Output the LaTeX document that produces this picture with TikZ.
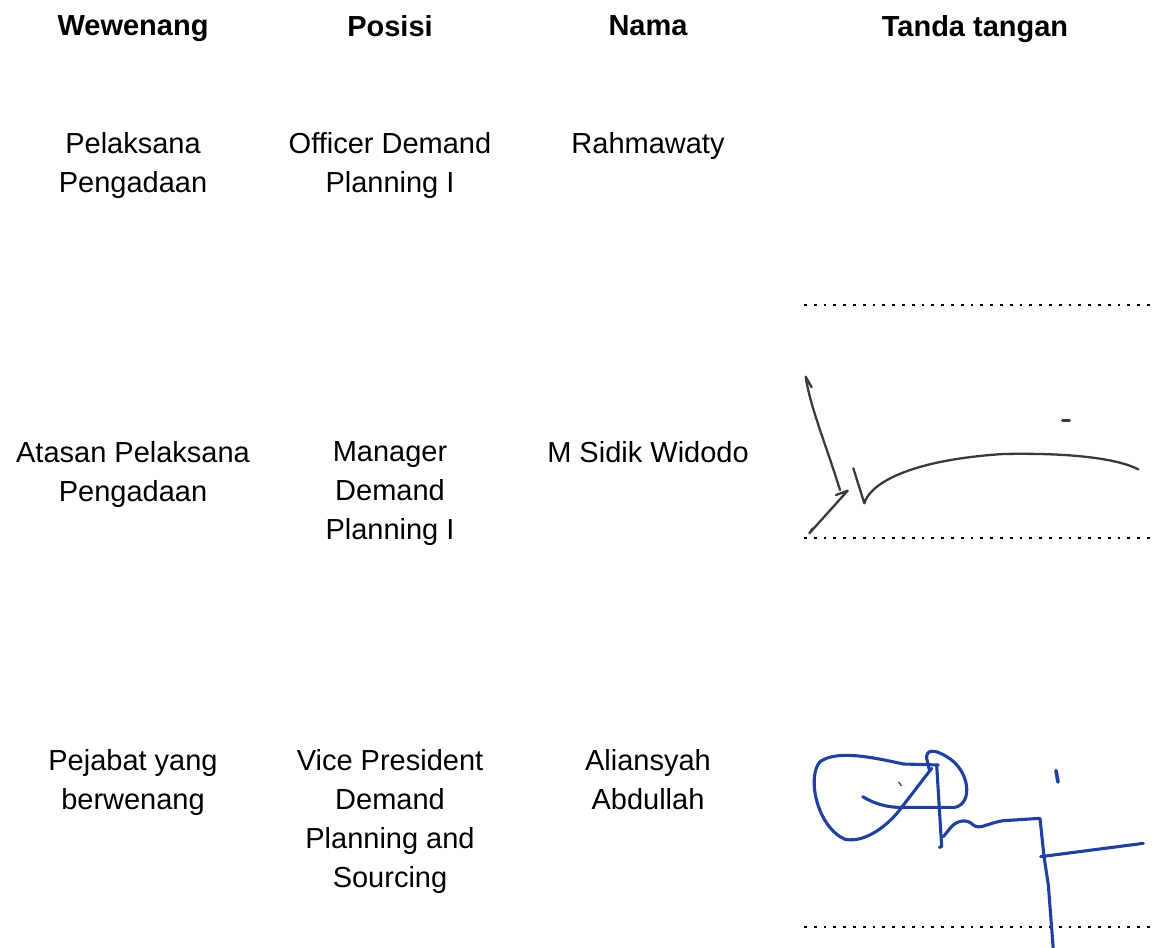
\documentclass[tikz,border=0pt]{standalone}
\usepackage{fontspec}
\setmainfont{Liberation Sans}
\usetikzlibrary{positioning}
\definecolor{inkgray}{RGB}{58,58,58}
\definecolor{inkblue}{RGB}{32,64,160}
\tikzset{head/.style = {font=\bfseries\fontsize{29}{39}\selectfont, inner sep=0, anchor=north, align=center}}
\tikzset{cell/.style = {font=\fontsize{29}{39}\selectfont, inner sep=0, anchor=north, align=center}}
\tikzset{dots/.style = {line width=2.8pt, dash pattern=on 2.8pt off 7pt}}
\tikzset{sigone/.style = {draw=inkgray, line width=2.3pt, line cap=round, line join=round}}
\tikzset{sigtwo/.style = {draw=inkblue, line width=3.1pt, line cap=round, line join=round}}

\begin{document}
\begin{tikzpicture}[x=1pt, y=-1pt]
    \useasboundingbox (0, 0) rectangle (1155, 947);

    % header
    \node [head] (wew) at (133, 15) {Wewenang};
    \node [head] (pos) at (390, 15) {Posisi};
    \node [head] (nam) at (648, 15) {Nama};
    \node [head] (ttd) at (975, 15) {Tanda tangan};

    % rows
    \node [cell] (wewA) at (133, 132.5) {Pelaksana\\Pengadaan};
    \node [cell] (posA) at (390, 132.5) {Officer Demand\\Planning I};
    \node [cell] (namA) at (648, 132.5) {Rahmawaty};

    \node [cell] (wewB) at (133, 441.5) {Atasan Pelaksana\\Pengadaan};
    \node [cell] (posB) at (390, 441.5) {Manager\\Demand\\Planning I};
    \node [cell] (namB) at (648, 441.5) {M Sidik Widodo};

    \node [cell] (wewC) at (133, 749.5) {Pejabat yang\\berwenang};
    \node [cell] (posC) at (390, 749.5) {Vice President\\Demand\\Planning and\\Sourcing};
    \node [cell] (namC) at (648, 749.5) {Aliansyah\\Abdullah};

    % signature lines
    \coordinate (lineAl) at (804, 305);
    \coordinate (lineAr) at (1152, 305);
    \coordinate (lineBl) at (804, 538);
    \coordinate (lineBr) at (1152, 538);
    \coordinate (lineCl) at (804, 927);
    \coordinate (lineCr) at (1152, 927);
    \draw [dots] (lineAl) -- (lineAr);
    \draw [dots] (lineBl) -- (lineBr);
    \draw [dots] (lineCl) -- (lineCr);

    % first signature
    \begin{scope}[shift={(770, 280)}, scale=1/3]
      \draw [sigone] (125, 322) -- (107, 290) .. controls (120, 380) and (170, 500) .. (210, 630);
      \draw [sigone] (198, 645) -- (233, 632) -- (118, 760) -- (128, 745);
      \draw [sigone] (250, 565) -- (283, 670) .. controls (300, 610) and (420, 540) .. (700, 522)
                     .. controls (900, 518) and (1040, 535) .. (1105, 568);
      \draw [sigone, line width=3pt] (878, 420) -- (898, 420);
    \end{scope}

    % second signature
    \begin{scope}[shift={(770, 570)}, scale=1/3]
      \draw [sigtwo] (505, 585) -- (400, 582) .. controls (300, 560) and (200, 540) .. (150, 575)
                     .. controls (110, 620) and (140, 770) .. (225, 808)
                     .. controls (290, 820) and (360, 760) .. (395, 712) -- (485, 595);
      \draw [sigtwo] (278, 680) .. controls (320, 705) and (360, 715) .. (420, 712) -- (555, 712)
                     .. controls (610, 700) and (600, 600) .. (530, 560)
                     .. controls (490, 535) and (468, 540) .. (470, 565) -- (478, 600);
      \draw [sigtwo] (500, 585) -- (515, 830) -- (508, 832);
      \draw [sigtwo] (520, 800) -- (540, 775) .. controls (560, 750) and (590, 745) .. (610, 765)
                     .. controls (630, 780) and (650, 760) .. (700, 752) -- (810, 745)
                     -- (822, 860) -- (835, 945) -- (850, 1140);
      \draw [sigtwo] (812, 860) -- (1120, 820);
      \draw [sigtwo, line width=3.6pt] (858, 602) -- (864, 636);
      \draw [sigtwo, line width=1.2pt] (386, 636) -- (394, 647);
    \end{scope}
\end{tikzpicture}
\end{document}
